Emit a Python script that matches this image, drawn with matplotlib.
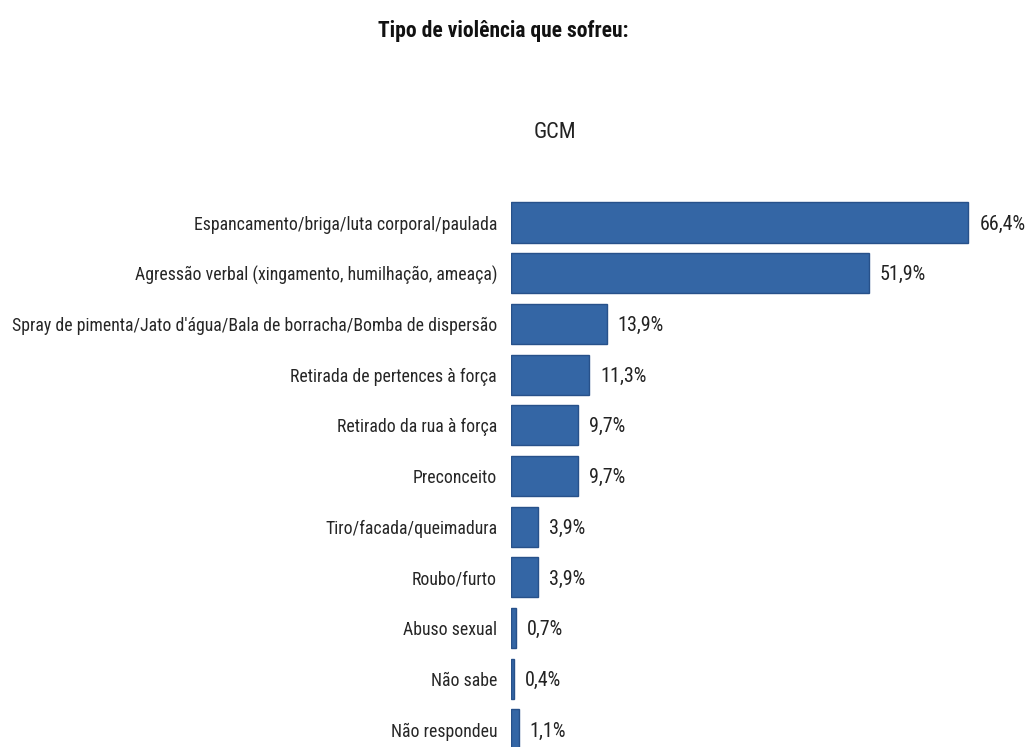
import matplotlib
matplotlib.use("Agg")
import matplotlib.pyplot as plt
from matplotlib import font_manager

categories = [
    "Espancamento/briga/luta corporal/paulada",
    "Agressão verbal (xingamento, humilhação, ameaça)",
    "Spray de pimenta/Jato d'água/Bala de borracha/Bomba de dispersão",
    "Retirada de pertences à força",
    "Retirado da rua à força",
    "Preconceito",
    "Tiro/facada/queimadura",
    "Roubo/furto",
    "Abuso sexual",
    "Não sabe",
    "Não respondeu",
]
values = [66.4, 51.9, 13.9, 11.3, 9.7, 9.7, 3.9, 3.9, 0.7, 0.4, 1.1]
title = "Tipo de violência que sofreu:"
subtitle = "GCM"

# pick a condensed face for the tall, narrow lettering
available = {f.name for f in font_manager.fontManager.ttflist}
family = "DejaVu Sans"
for cand in ["Roboto Condensed", "IBM Plex Sans Condensed", "Open Sans Condensed",
             "Liberation Sans Narrow"]:
    if cand in available:
        family = cand
        break
plt.rcParams["font.family"] = [family, "DejaVu Sans"]

W, H = 1029, 747
fig = plt.figure(figsize=(W / 100, H / 100), dpi=100)
fig.patch.set_facecolor("white")

# axes placed in pixel terms: bars start at x=511, rows spaced ~50.7 px
left_px, right_px = 511, 1029
top_px, bottom_px = 180, 747
ax = fig.add_axes([left_px / W, 1 - bottom_px / H,
                   (right_px - left_px) / W, (bottom_px - top_px) / H])

px_per_unit = 6.89
row_px = 50.7
first_center = 222.5
ax.set_xlim(0, (right_px - left_px) / px_per_unit)
ax.set_ylim((bottom_px - first_center) / row_px, -(first_center - top_px) / row_px)

ypos = list(range(len(categories)))
ax.barh(ypos, values, height=0.79, color="#3466a5", edgecolor="#27518a",
        linewidth=1.0)

for y, v in zip(ypos, values):
    ax.text(v + 1.6, y + 0.03, f"{v:.1f}%".replace(".", ","), va="center",
            ha="left", fontsize=14.4, color="#222222")

ax.set_yticks(ypos)
ax.set_yticklabels(categories, fontsize=12.8, color="#262626")
ax.tick_params(axis="y", length=0, pad=10)
ax.set_xticks([])
for s in ax.spines.values():
    s.set_visible(False)

fig.text(503 / W, 1 - 31 / H, title, ha="center", va="center",
         fontsize=15.5, fontweight="bold", color="#111111")
fig.text(555 / W, 1 - 132 / H, subtitle, ha="center", va="center",
         fontsize=16, color="#222222")

fig.savefig("out.png", dpi=100, facecolor="white")
